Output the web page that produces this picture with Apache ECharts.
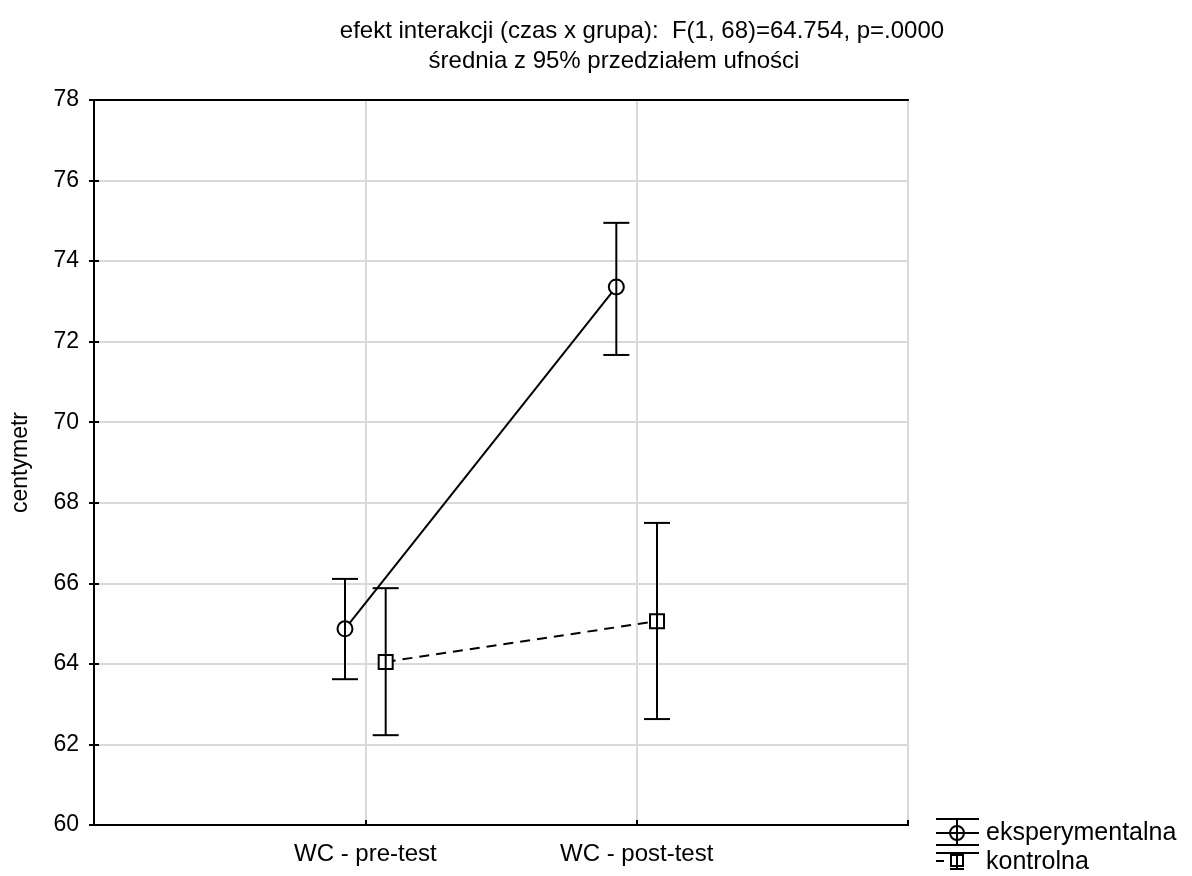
<!DOCTYPE html>
<html>
<head>
<meta charset="utf-8">
<script src="https://cdn.jsdelivr.net/npm/echarts@6/dist/echarts.min.js"></script>
<style>
  html, body { margin: 0; padding: 0; background: #fff; }
  #main { width: 1192px; height: 876px; }
</style>
</head>
<body>
<div id="main"></div>
<script>
// dane
var categories = ['WC - pre-test', 'WC - post-test'];
var groups = ['eksperymentalna', 'kontrolna'];
var expMean = [64.87, 73.36];
var expLow = [63.62, 71.67];
var expHigh = [66.11, 74.95];
var ctrlMean = [64.05, 65.06];
var ctrlLow = [62.23, 62.63];
var ctrlHigh = [65.88, 67.50];
var yTicks = [60, 62, 64, 66, 68, 70, 72, 74, 76, 78];
var titleLines = [
  'efekt interakcji (czas x grupa):  F(1, 68)=64.754, p=.0000',
  'średnia z 95% przedziałem ufności'
];

var dodge = 0.075;
var FONT = 'Liberation Sans, Arial, sans-serif';

function points(mean, shift) {
  return mean.map(function (v, i) { return [i + 1 + shift, v]; });
}
function bars(low, high, shift) {
  return low.map(function (v, i) { return [i + 1 + shift, v, high[i]]; });
}

function renderErrorBar(params, api) {
  var x = api.value(0);
  var lo = api.coord([x, api.value(1)]);
  var hi = api.coord([x, api.value(2)]);
  var half = 13;
  var style = { stroke: '#000', lineWidth: 2 };
  return {
    type: 'group',
    children: [
      { type: 'line', shape: { x1: lo[0], y1: lo[1], x2: hi[0], y2: hi[1] }, style: style },
      { type: 'line', shape: { x1: lo[0] - half, y1: lo[1], x2: lo[0] + half, y2: lo[1] }, style: style },
      { type: 'line', shape: { x1: hi[0] - half, y1: hi[1], x2: hi[0] + half, y2: hi[1] }, style: style }
    ]
  };
}

var chart = echarts.init(document.getElementById('main'));

var lineStyle = { stroke: '#000', lineWidth: 2 };
var legendText = { fontFamily: FONT, fontSize: 25, fill: '#000', verticalAlign: 'middle', align: 'left' };
var titleText = { fontFamily: FONT, fontSize: 24, fill: '#000', verticalAlign: 'middle', align: 'center' };

var option = {
  animation: false,
  backgroundColor: '#fff',
  grid: {
    left: 94, right: 284, top: 100, bottom: 51,
    show: true, borderColor: '#000', borderWidth: 2, backgroundColor: '#fff'
  },
  xAxis: [{
    type: 'value', min: 0, max: 3, interval: 1,
    axisLine: { show: true, lineStyle: { color: '#000', width: 2 } },
    axisTick: { show: true, inside: true, length: 5, lineStyle: { color: '#000', width: 2 } },
    splitLine: { show: true, lineStyle: { color: '#d9d9d9', width: 2 } },
    axisLabel: {
      margin: 17, color: '#000', fontFamily: FONT, fontSize: 24,
      formatter: function (v) { return categories[v - 1] || ''; }
    }
  }, {
    type: 'value', position: 'top', min: 0, max: 3, interval: 1,
    axisLine: { show: true, lineStyle: { color: '#000', width: 2 } },
    axisTick: { show: false },
    splitLine: { show: false },
    axisLabel: { show: false }
  }],
  yAxis: [{
    type: 'value', min: yTicks[0], max: yTicks[yTicks.length - 1], interval: 2,
    name: 'centymetr', nameLocation: 'middle', nameGap: 62,
    nameTextStyle: { fontFamily: FONT, fontSize: 23, color: '#000' },
    axisLine: { show: true, lineStyle: { color: '#000', width: 2 } },
    axisTick: { show: true, inside: true, length: 5, lineStyle: { color: '#000', width: 2 } },
    splitLine: { show: true, lineStyle: { color: '#d9d9d9', width: 2 } },
    axisLabel: { margin: 15, color: '#000', fontFamily: FONT, fontSize: 23 }
  }, {
    type: 'value', position: 'right', min: yTicks[0], max: yTicks[yTicks.length - 1], interval: 2,
    axisLine: { show: true, lineStyle: { color: '#000', width: 2 } },
    axisTick: { show: true, inside: true, length: 5, lineStyle: { color: '#000', width: 2 } },
    splitLine: { show: false },
    axisLabel: { show: false }
  }],
  series: [
    {
      name: groups[0], type: 'line', z: 2,
      data: points(expMean, -dodge),
      symbol: 'circle', symbolSize: 15,
      itemStyle: { color: '#fff', borderColor: '#000', borderWidth: 2 },
      lineStyle: { color: '#000', width: 2 }
    },
    {
      name: groups[1], type: 'line', z: 2,
      data: points(ctrlMean, dodge),
      symbol: 'rect', symbolSize: 14,
      itemStyle: { color: '#fff', borderColor: '#000', borderWidth: 2 },
      lineStyle: { color: '#000', width: 2, type: [10, 7] }
    },
    {
      type: 'custom', z: 3, renderItem: renderErrorBar,
      encode: { x: 0, y: [1, 2] },
      data: bars(expLow, expHigh, -dodge)
    },
    {
      type: 'custom', z: 3, renderItem: renderErrorBar,
      encode: { x: 0, y: [1, 2] },
      data: bars(ctrlLow, ctrlHigh, dodge)
    }
  ],
  graphic: [
    // tytuł
    { type: 'text', style: Object.assign({ x: 642, y: 31, text: titleLines[0] }, titleText) },
    { type: 'text', style: Object.assign({ x: 614, y: 61, text: titleLines[1] }, titleText) },
    // legenda: eksperymentalna
    { type: 'line', shape: { x1: 936, y1: 819, x2: 979, y2: 819 }, style: lineStyle },
    { type: 'line', shape: { x1: 936, y1: 833, x2: 979, y2: 833 }, style: lineStyle },
    { type: 'line', shape: { x1: 936, y1: 845, x2: 979, y2: 845 }, style: lineStyle },
    { type: 'line', shape: { x1: 957, y1: 819, x2: 957, y2: 845 }, style: lineStyle },
    { type: 'circle', shape: { cx: 957, cy: 833, r: 7 }, style: { fill: 'none', stroke: '#000', lineWidth: 2 } },
    { type: 'text', style: Object.assign({ x: 986, y: 833, text: groups[0] }, legendText) },
    // legenda: kontrolna
    { type: 'line', shape: { x1: 936, y1: 853, x2: 979, y2: 853 }, style: lineStyle },
    { type: 'line', shape: { x1: 936, y1: 861, x2: 944, y2: 861 }, style: lineStyle },
    { type: 'line', shape: { x1: 957, y1: 853, x2: 957, y2: 869 }, style: lineStyle },
    { type: 'rect', shape: { x: 951, y: 855, width: 12, height: 11 }, style: { fill: 'none', stroke: '#000', lineWidth: 2 } },
    { type: 'line', shape: { x1: 950, y1: 869, x2: 964, y2: 869 }, style: lineStyle },
    { type: 'text', style: Object.assign({ x: 986, y: 862, text: groups[1] }, legendText) }
  ]
};

chart.setOption(option);
</script>
</body>
</html>
